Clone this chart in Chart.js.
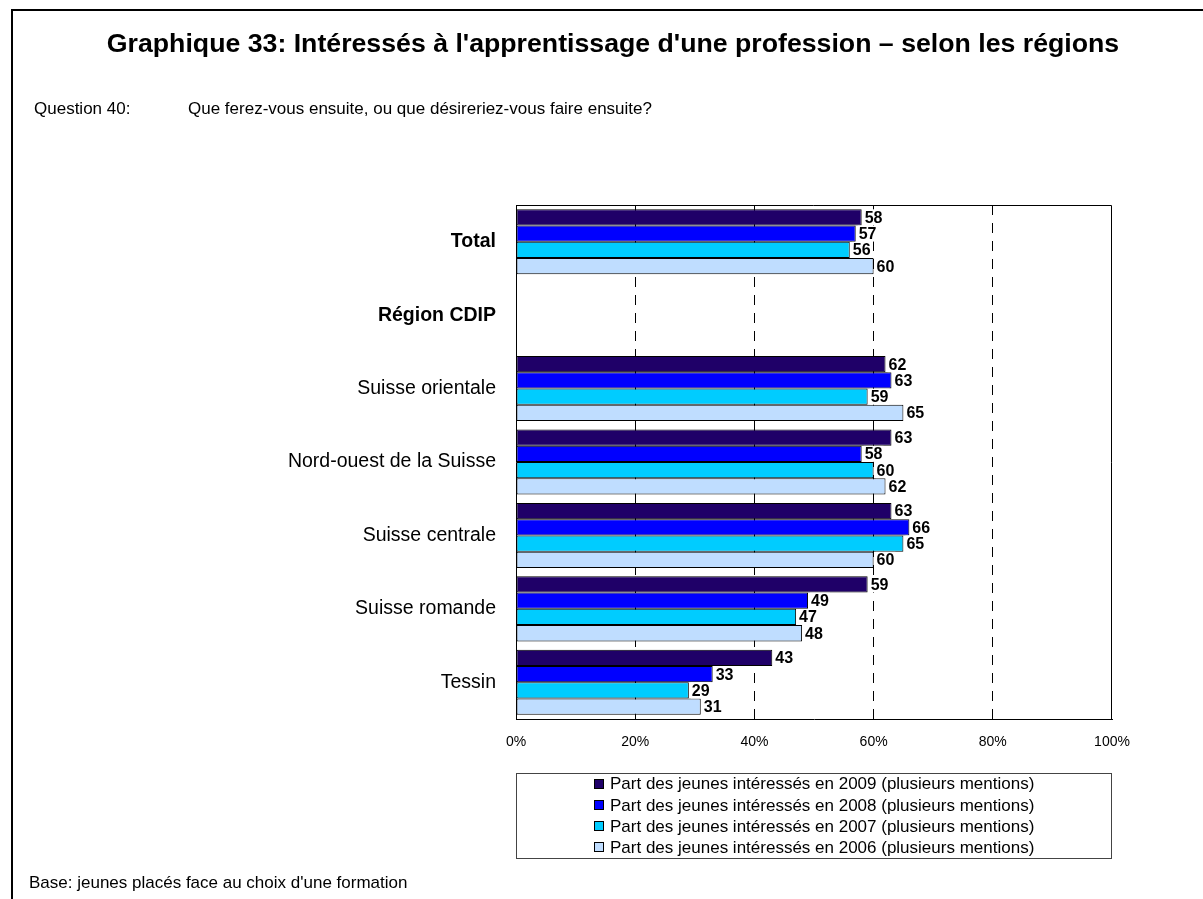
<!DOCTYPE html>
<html lang="fr">
<head>
<meta charset="utf-8">
<title>Graphique 33</title>
<script src="https://cdn.jsdelivr.net/npm/chart.js@4/dist/chart.umd.min.js"></script>
<style>
  html, body { margin: 0; padding: 0; background: #fff; }
  #page { position: relative; width: 1203px; height: 899px; overflow: hidden;
          font-family: Arial, "Liberation Sans", sans-serif; color: #000; }
  #frame { position: absolute; left: 11px; top: 9px; width: 1300px; height: 1000px;
           border-left: 2px solid #000; border-top: 2px solid #000; }
  #title { position: absolute; left: 613px; top: 28px; transform: translateX(-50%);
           white-space: nowrap; font-weight: bold; font-size: 26.7px; line-height: 30px; }
  .txt { position: absolute; font-size: 17px; line-height: 20px; white-space: nowrap; }
  #chartBox { position: absolute; left: 0; top: 0; width: 1203px; height: 899px; }
</style>
</head>
<body>
<div id="page">
  <div id="frame"></div>
  <div id="chartBox"><canvas id="chart" width="1203" height="899"></canvas></div>
  <div id="title">Graphique 33: Intéressés à l'apprentissage d'une profession – selon les régions</div>
  <div class="txt" style="left:34px; top:99px;">Question 40:</div>
  <div class="txt" style="left:188px; top:99px;">Que ferez-vous ensuite, ou que désireriez-vous faire ensuite?</div>
  <div class="txt" style="left:29px; top:873px;">Base: jeunes placés face au choix d'une formation</div>
</div>
<script>
// Categories (rows) and which ones are section headings
const categories = ['Total', 'Région CDIP', 'Suisse orientale', 'Nord-ouest de la Suisse',
                    'Suisse centrale', 'Suisse romande', 'Tessin'];
const headingCategories = ['Total', 'Région CDIP'];

// Series names
const seriesNames = [
  'Part des jeunes intéressés en 2009 (plusieurs mentions)',
  'Part des jeunes intéressés en 2008 (plusieurs mentions)',
  'Part des jeunes intéressés en 2007 (plusieurs mentions)',
  'Part des jeunes intéressés en 2006 (plusieurs mentions)'
];

// Values in percent (the "Région CDIP" row is a heading without bars)
const values2009 = [58, null, 62, 63, 63, 59, 43];
const values2008 = [57, null, 63, 58, 66, 49, 33];
const values2007 = [56, null, 59, 60, 65, 47, 29];
const values2006 = [60, null, 65, 62, 60, 48, 31];

// Percentage axis ticks
const xTickValues = [0, 20, 40, 60, 80, 100];

const seriesColors = ['#1f0068', '#0000ff', '#00ccff', '#bfddff'];
const seriesValues = [values2009, values2008, values2007, values2006];

const FONT = 'Arial, "Liberation Sans", sans-serif';

// Numbers printed at the end of each bar, on a white patch
const valueLabels = {
  id: 'valueLabels',
  afterDatasetsDraw(chart) {
    const ctx = chart.ctx;
    ctx.save();
    ctx.font = 'bold 16px ' + FONT;
    ctx.textBaseline = 'middle';
    chart.data.datasets.forEach((ds, i) => {
      const meta = chart.getDatasetMeta(i);
      meta.data.forEach((bar, j) => {
        const v = ds.data[j];
        if (v === null || v === undefined) return;
        const text = String(v);
        const w = ctx.measureText(text).width;
        const x = bar.x + 3;
        ctx.fillStyle = '#fff';
        ctx.fillRect(x - 1, bar.y - 8, w + 2, 16);
        ctx.fillStyle = '#000';
        ctx.fillText(text, x, bar.y + 1);
      });
    });
    ctx.restore();
  }
};

// Solid top/right edges of the plot area and the boxed legend underneath
const frameAndLegend = {
  id: 'frameAndLegend',
  afterDraw(chart) {
    const { ctx, chartArea: a } = chart;
    ctx.save();
    ctx.strokeStyle = '#000';
    ctx.lineWidth = 1;
    ctx.beginPath();
    ctx.moveTo(a.left, a.top + 0.5);
    ctx.lineTo(a.right - 0.5, a.top + 0.5);
    ctx.lineTo(a.right - 0.5, a.bottom);
    ctx.stroke();

    // legend box
    const rowH = 21.25;
    const top = a.bottom + 54;
    const n = chart.data.datasets.length;
    ctx.strokeStyle = '#444';
    ctx.strokeRect(a.left + 0.5, top + 0.5, a.right - a.left - 1, rowH * n);

    ctx.font = '17px ' + FONT;
    ctx.textBaseline = 'middle';
    let maxW = 0;
    chart.data.datasets.forEach(ds => { maxW = Math.max(maxW, ctx.measureText(ds.label).width); });
    const groupW = 10 + 6 + maxW;
    const startX = Math.round((a.left + a.right) / 2 - groupW / 2);
    chart.data.datasets.forEach((ds, i) => {
      const cy = top + (i + 0.5) * rowH;
      ctx.fillStyle = ds.backgroundColor;
      ctx.fillRect(startX, Math.round(cy - 5), 10, 10);
      ctx.strokeStyle = '#000';
      ctx.strokeRect(startX + 0.5, Math.round(cy - 5) + 0.5, 9, 9);
      ctx.fillStyle = '#000';
      ctx.fillText(ds.label, startX + 16, cy + 1);
    });
    ctx.restore();
  }
};

new Chart(document.getElementById('chart'), {
  type: 'bar',
  data: {
    labels: categories,
    datasets: seriesNames.map((name, i) => ({
      label: name,
      data: seriesValues[i],
      backgroundColor: seriesColors[i],
      borderColor: '#000',
      borderWidth: 1,
      borderSkipped: false,
      barPercentage: 1,
      categoryPercentage: 0.886
    }))
  },
  options: {
    indexAxis: 'y',
    responsive: false,
    animation: false,
    layout: { padding: { top: 205, right: 91, bottom: 140, left: 0 } },
    plugins: { legend: { display: false }, tooltip: { enabled: false } },
    scales: {
      x: {
        min: 0, max: 100,
        afterBuildTicks: s => { s.ticks = xTickValues.map(v => ({ value: v })); },
        afterFit: s => { s.height = 40; },
        grid: {
          drawTicks: false,
          lineWidth: 1,
          color: c => (c.tick && (c.tick.value === 0 || c.tick.value === 100)) ? 'rgba(0,0,0,0)' : '#000'
        },
        border: { display: true, color: '#000', width: 1, dash: [10, 8] },
        ticks: {
          padding: 15,
          color: '#000',
          font: { family: FONT, size: 14 },
          callback: v => v + '%'
        }
      },
      y: {
        afterFit: s => { s.width = 516; },
        grid: { display: false, drawTicks: false },
        border: { display: true, color: '#000', width: 1 },
        ticks: {
          padding: 20,
          color: '#000',
          font: c => ({ family: FONT, size: 19.5,
                        weight: headingCategories.includes(categories[c.index]) ? 'bold' : 'normal' })
        }
      }
    }
  },
  plugins: [valueLabels, frameAndLegend]
});
</script>
</body>
</html>
